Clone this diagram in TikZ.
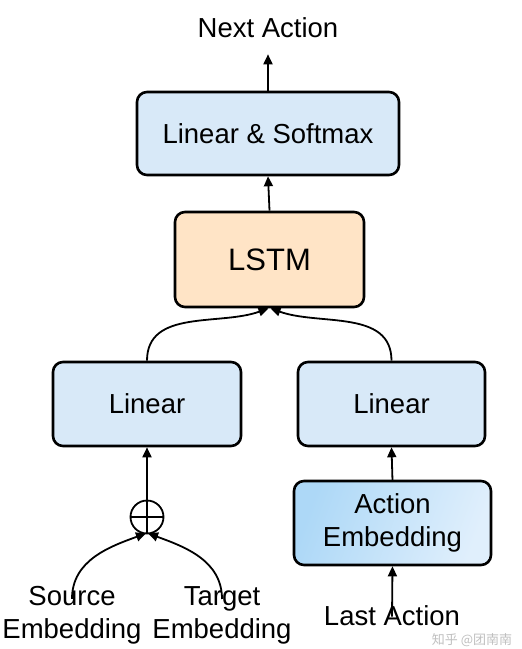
\documentclass[tikz,border=0pt]{standalone}
\usepackage{fontspec}
\setmainfont{Liberation Sans}
\newfontfamily\cjkfont{Noto Sans CJK SC}
\usetikzlibrary{arrows.meta}
\definecolor{lblue}{HTML}{D8E9F8}
\definecolor{lorange}{HTML}{FFE4C6}
\definecolor{gdeep}{HTML}{ADD8F7}
\definecolor{glight}{HTML}{E0EFFC}
\tikzset{
  blk/.style={draw=black, line width=2.6pt, rounded corners=10pt, fill=lblue,
    inner sep=0pt, align=center, font=\fontsize{27.5}{33}\selectfont},
  lbl/.style={inner sep=0pt, align=center, font=\fontsize{27.5}{33}\selectfont},
  conn/.style={line width=1.8pt, -{Triangle[length=10pt,width=9pt]}},
}
\begin{document}
\begin{tikzpicture}[x=1pt,y=-1pt]
\useasboundingbox (0,0) rectangle (522,649);
% boxes
\node[blk, minimum width=262, minimum height=83] (lss) at (268,133.5) {Linear \& Softmax};
\node[blk, fill=lorange, minimum width=189, minimum height=95,
      font=\fontsize{31}{36}\selectfont] (lstm) at (269.5,259.5) {LSTM};
\node[blk, minimum width=188, minimum height=84] (linl) at (147,404) {Linear};
\node[blk, minimum width=187, minimum height=84] (linr) at (391.5,404) {Linear};
\node[blk, minimum width=197, minimum height=84, fill=none,
      left color=gdeep, right color=glight, shading angle=70] (aemb) at (392.5,523) {Action\\Embedding};
% plus circle
\node[draw=black, line width=1.8pt, circle, minimum size=33, inner sep=0pt] (plus) at (147,517) {};
\draw[line width=1.8pt] (plus.north) -- (plus.south) (plus.west) -- (plus.east);
% labels
\node[lbl] (next) at (268,28) {Next Action};
\node[lbl] (src) at (72,615) {Source\\Embedding};
\node[lbl] (tgt) at (222,615) {Target\\Embedding};
\node[lbl] (last) at (392,616) {Last Action};
\node[inner sep=0pt, text=black!25, font=\cjkfont\fontsize{13}{16}\selectfont] (wm) at (472,640) {知乎 @团南南};
% connectors
\draw[conn] (lss.north) -- ([yshift=-16pt]next.south);
\draw[conn] (lstm.north) -- (lss.south);
\draw[conn] (linl.north) to[out=90,in=200] ([xshift=-1pt]lstm.south);
\draw[conn] (linr.north) to[out=90,in=-20] ([xshift=1pt]lstm.south);
\draw[conn] (plus.north) -- (linl.south);
\draw[conn] ([yshift=-1pt]aemb.north) -- (linr.south);
\draw[conn] ([yshift=-13pt]src.north) to[out=90,in=200] ([xshift=-1pt,yshift=1pt]plus.south);
\draw[conn] ([yshift=-13pt]tgt.north) to[out=90,in=-20] ([xshift=1pt,yshift=1pt]plus.south);
\draw[conn] ([yshift=-11pt]last.north) -- (aemb.south);
\end{tikzpicture}
\end{document}
